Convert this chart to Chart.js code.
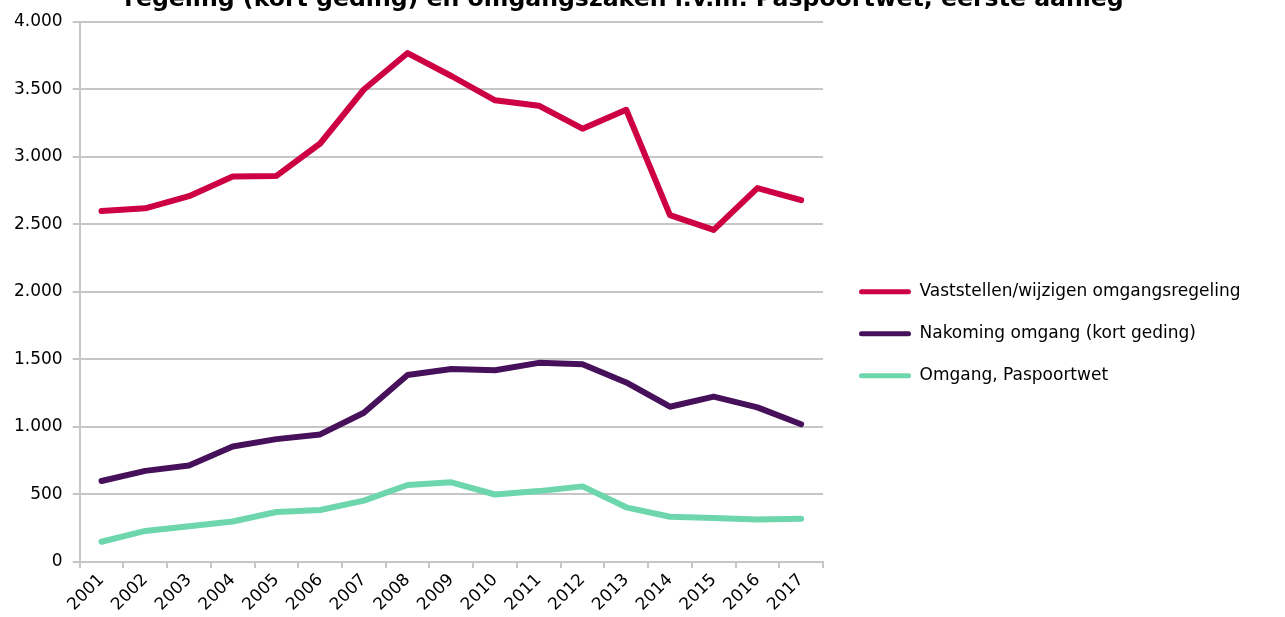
<!DOCTYPE html>
<html>
<head>
<meta charset="utf-8">
<script src="https://cdn.jsdelivr.net/npm/chart.js@4/dist/chart.umd.min.js"></script>
<style>
  html, body { margin: 0; padding: 0; background: #fff; }
  #wrap { position: relative; width: 1285px; height: 617px; }
</style>
</head>
<body>
<div id="wrap"><canvas id="chart"></canvas></div>
<script>
// ── Data ────────────────────────────────────────────
const years = ['2001', '2002', '2003', '2004', '2005', '2006', '2007', '2008', '2009',
  '2010', '2011', '2012', '2013', '2014', '2015', '2016', '2017'];

const vaststellen = [2600, 2620, 2710, 2855, 2860, 3100, 3500, 3770, 3600,
  3420, 3380, 3210, 3350, 2570, 2460, 2770, 2680];
const nakoming = [600, 675, 715, 855, 910, 945, 1105, 1385, 1430,
  1420, 1475, 1465, 1330, 1150, 1225, 1145, 1020];
const paspoortwet = [150, 230, 265, 300, 370, 385, 455, 570, 590,
  500, 525, 560, 405, 335, 325, 315, 320];

const seriesNames = [
  'Vaststellen/wijzigen omgangsregeling',
  'Nakoming omgang (kort geding)',
  'Omgang, Paspoortwet',
];
const seriesColors = ['#cc0042', '#46105a', '#6dd6ad'];

const titleText = 'regeling (kort geding) en omgangszaken i.v.m. Paspoortwet, eerste aanleg';

const FONT = 'Verdana, "DejaVu Sans", sans-serif';
const GRID = '#c6c6c6';

// ── Title (top line is cut off in the original) ─────
const cutTitle = {
  id: 'cutTitle',
  afterDraw(chart) {
    const ctx = chart.ctx;
    ctx.save();
    ctx.font = 'bold 23.6px ' + FONT;
    ctx.fillStyle = '#000';
    ctx.textAlign = 'center';
    ctx.textBaseline = 'alphabetic';
    ctx.fillText(titleText, 624, 6);
    ctx.restore();
  },
};

// legend box is laid out narrow; let its text run to the canvas edge
const widenLegend = {
  id: 'widenLegend',
  afterLayout(chart) {
    const lg = chart.legend;
    if (!lg) return;
    lg.right = chart.width;
    lg.width = lg.right - lg.left;
  },
};

const datasets = [vaststellen, nakoming, paspoortwet].map((vals, i) => ({
  label: seriesNames[i],
  data: vals,
  borderColor: seriesColors[i],
  backgroundColor: seriesColors[i],
  borderWidth: 6,
  pointRadius: 0,
  tension: 0,
  fill: false,
  borderCapStyle: 'round',
  borderJoinStyle: 'round',
}));

new Chart(document.getElementById('chart'), {
  type: 'line',
  data: { labels: years, datasets },
  plugins: [cutTitle, widenLegend],
  options: {
    responsive: true,
    maintainAspectRatio: false,
    animation: false,
    layout: { padding: { top: 22, left: 4, right: 301, bottom: 0 } },
    plugins: {
      tooltip: { enabled: false },
      legend: {
        position: 'right',
        maxWidth: 150,
        title: { display: true, text: '', padding: { top: 14 } },
        labels: {
          font: { family: FONT, size: 17 },
          color: '#000',
          boxWidth: 52,
          boxHeight: 5,
          padding: 25,
          generateLabels: (chart) =>
            chart.data.datasets.map((d, i) => ({
              text: d.label,
              fillStyle: d.borderColor,
              strokeStyle: d.borderColor,
              fontColor: '#000',
              lineWidth: 0,
              borderRadius: 2.5,
              datasetIndex: i,
            })),
        },
      },
    },
    scales: {
      x: {
        offset: true,
        grid: {
          offset: true,
          drawOnChartArea: false,
          drawTicks: true,
          tickLength: 6,
          color: GRID,
          lineWidth: 2,
        },
        border: { color: GRID, width: 2 },
        ticks: {
          font: { family: FONT, size: 17 },
          color: '#000',
          minRotation: 45,
          maxRotation: 45,
          autoSkip: false,
          padding: 2,
        },
      },
      y: {
        min: 0,
        max: 4000,
        grid: { color: GRID, lineWidth: 2, tickLength: 7 },
        border: { color: GRID, width: 2 },
        ticks: {
          stepSize: 500,
          font: { family: FONT, size: 17 },
          color: '#000',
          padding: 10,
          callback: (v) => v.toLocaleString('nl-NL'),
        },
      },
      yPad: {
        position: 'right',
        display: true,
        grid: { display: false },
        border: { display: false },
        ticks: { display: false },
        afterFit: (s) => { s.width = 11; },
      },
    },
  },
});
</script>
</body>
</html>
